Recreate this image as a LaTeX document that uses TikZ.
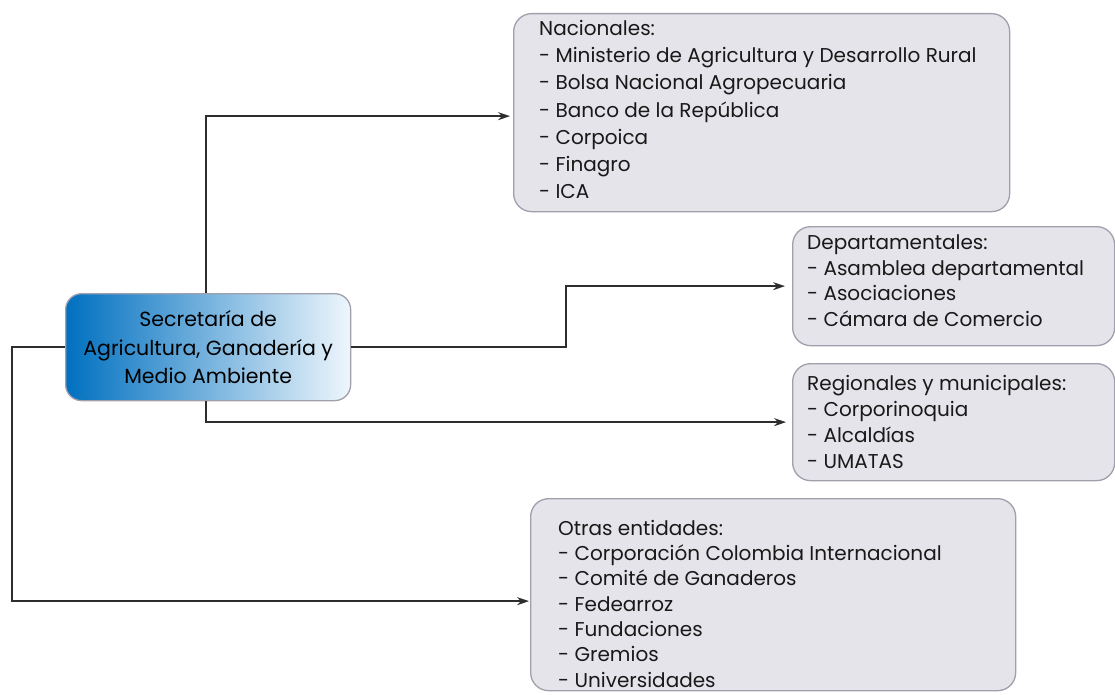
\documentclass[tikz,border=0pt]{standalone}
\usepackage{fontspec}
\setmainfont{Poppins}
\usetikzlibrary{arrows.meta,calc}
\definecolor{boxfill}{RGB}{228,228,234}
\definecolor{boxline}{RGB}{160,160,172}
\definecolor{connc}{RGB}{45,45,45}
\definecolor{blueL}{RGB}{0,112,192}
\definecolor{blueM}{RGB}{12,152,220}
\definecolor{blueR}{RGB}{238,246,252}
\begin{document}
\begin{tikzpicture}[x=1pt,y=-1pt,
  grbox/.style={draw=boxline, line width=1.3pt, fill=boxfill, rounded corners=18pt, anchor=north west, inner sep=0pt},
  listtext/.style={anchor=base west, align=left, inner sep=0pt, text=black!90},
  connector/.style={draw=connc, line width=1.9pt, -{Stealth[length=12pt,width=8pt]}}
]
\useasboundingbox (0,0) rectangle (1115,695);

% boxes
\node[grbox, minimum width=496pt, minimum height=198pt] (nac) at (513,13) {};
\node[grbox, minimum width=322pt, minimum height=119pt] (dep) at (792,226) {};
\node[grbox, minimum width=322pt, minimum height=117pt] (reg) at (792,363) {};
\node[grbox, minimum width=485pt, minimum height=192pt] (otr) at (530,498) {};

\node[draw=boxline, line width=1.3pt, rounded corners=16pt, anchor=north west,
  left color=blueL, middle color=blueM, right color=blueR,
  minimum width=285pt, minimum height=107pt, inner sep=0pt, align=center,
  font=\fontsize{20.5}{28.5}\selectfont] (sec) at (65,293)
  {Secretaría de\\Agricultura, Ganadería y\\Medio Ambiente};

% texts (anchored at the baseline of the last line)
\node[listtext, font=\fontsize{20}{27}\selectfont] (nact) at (539,198) {Nacionales:\\- Ministerio de Agricultura y Desarrollo Rural\\- Bolsa Nacional Agropecuaria\\- Banco de la República\\- Corpoica\\- Finagro\\- ICA};
\node[listtext, font=\fontsize{20}{25.5}\selectfont] (dept) at (807,326) {Departamentales:\\- Asamblea departamental\\- Asociaciones\\- Cámara de Comercio};
\node[listtext, font=\fontsize{20}{25.7}\selectfont] (regt) at (807,468) {Regionales y municipales:\\- Corporinoquia\\- Alcaldías\\- UMATAS};
\node[listtext, font=\fontsize{20}{25.3}\selectfont] (otrt) at (558,687) {Otras entidades:\\- Corporación Colombia Internacional\\- Comité de Ganaderos\\- Fedearroz\\- Fundaciones\\- Gremios\\- Universidades};

% connectors
\coordinate (k1) at (566,0);
\coordinate (k2) at (12,0);
\draw[connector] ([xshift=-2.5pt]sec.north) |- ([xshift=-3pt,yshift=-3.5pt]nac.west);
\draw[connector] (sec.east) -- (sec.east -| k1) -- (k1 |- dep.west) -- ([xshift=-7pt]dep.west);
\draw[connector] ([xshift=-2.5pt]sec.south) |- ([xshift=-6pt]reg.west);
\draw[connector] (sec.west) -- (sec.west -| k2) |- ([xshift=-1pt,yshift=-6.5pt]otr.west);
\end{tikzpicture}
\end{document}
